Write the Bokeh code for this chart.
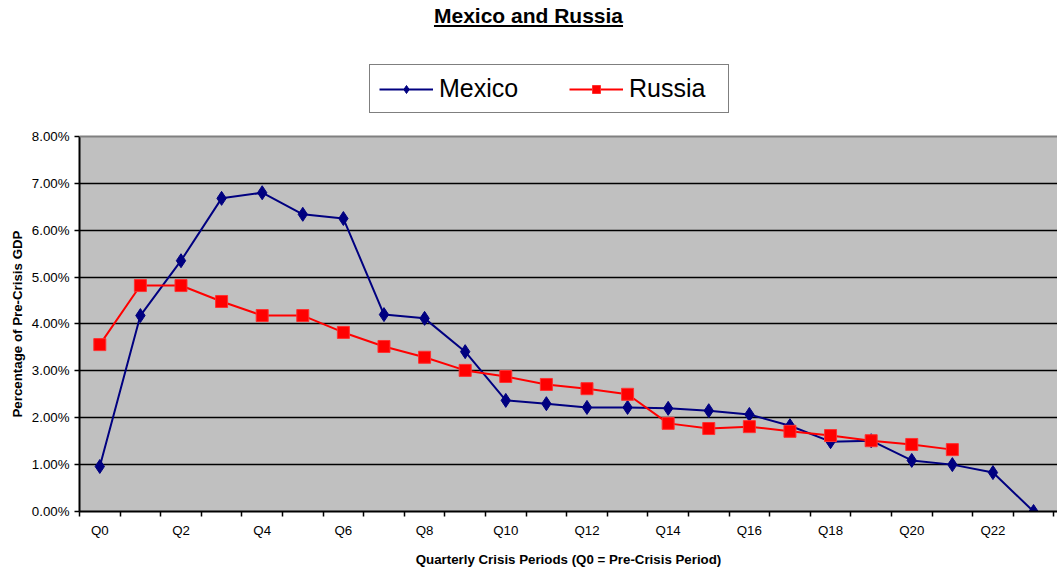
from bokeh.plotting import figure
from bokeh.models import (Range1d, FixedTicker, PrintfTickFormatter, Legend, LegendItem,
                          Div, BoxAnnotation, Span, Title)
from bokeh.layouts import column
from bokeh.embed import file_html
from bokeh.resources import INLINE

quarters = [f"Q{i}" for i in range(24)]
mexico = [0.96, 4.18, 5.35, 6.68, 6.80, 6.34, 6.25, 4.20, 4.12, 3.41, 2.37, 2.30,
          2.22, 2.22, 2.20, 2.15, 2.07, 1.83, 1.49, 1.51, 1.09, 1.00, 0.83, 0.00]
russia = [3.56, 4.82, 4.82, 4.48, 4.18, 4.18, 3.82, 3.52, 3.29, 3.01, 2.88, 2.71,
          2.62, 2.50, 1.88, 1.77, 1.81, 1.71, 1.62, 1.51, 1.43, 1.32]
y_ticks = [0, 1, 2, 3, 4, 5, 6, 7, 8]
Y_MAX = 8

FONT = "Liberation Sans"
FS = "13.3px"

xm = list(range(len(mexico)))
xr = list(range(len(russia)))

# frame extends above the 8% line to host the legend (white area above the plot box)
p = figure(width=1057, height=531, output_backend="svg", toolbar_location=None,
           x_range=Range1d(-0.5, 23.59), y_range=Range1d(0, 9.621),
           min_border_left=79, min_border_right=0, min_border_top=20, min_border_bottom=60)

p.background_fill_color = "white"
p.border_fill_color = "white"
p.outline_line_color = None

p.add_layout(BoxAnnotation(bottom=0, top=Y_MAX, fill_color="#C0C0C0", fill_alpha=1,
                           line_color=None, level="image"))
p.add_layout(Span(location=Y_MAX, dimension="width", line_color="#808080", line_width=2))

p.xgrid.visible = False
p.ygrid.grid_line_color = "black"
p.ygrid.grid_line_width = 1.3
p.ygrid.ticker = FixedTicker(ticks=y_ticks[:-1])

# y axis
p.yaxis.ticker = FixedTicker(ticks=y_ticks)
p.yaxis.bounds = (0, Y_MAX)
p.yaxis.formatter = PrintfTickFormatter(format="%.2f%%")
p.yaxis.axis_line_color = "black"
p.yaxis.axis_line_width = 2
p.yaxis.major_tick_out = 5
p.yaxis.major_tick_in = 0
p.yaxis.major_tick_line_width = 1.5
p.yaxis.minor_tick_out = 0
p.yaxis.minor_tick_in = 0
p.yaxis.major_label_standoff = 5
p.yaxis.major_label_text_font = FONT
p.yaxis.major_label_text_font_size = FS
p.yaxis.major_label_text_color = "black"

# y-axis title as a side title, aligned to the 0-8% box
ytitle = Title(text="Percentage of Pre-Crisis GDP", align="left", offset=94,
               text_font=FONT, text_font_size=FS, text_font_style="bold",
               text_color="black", standoff=7)
p.add_layout(ytitle, "left")

# x axis
p.xaxis.ticker = FixedTicker(ticks=list(range(0, 24, 2)),
                             minor_ticks=[i - 0.5 for i in range(25)])
p.xaxis.major_label_overrides = {i: quarters[i] for i in range(0, 24, 2)}
p.xaxis.axis_line_color = "black"
p.xaxis.axis_line_width = 2
p.xaxis.major_tick_out = 0
p.xaxis.major_tick_in = 0
p.xaxis.minor_tick_out = 5
p.xaxis.minor_tick_in = 0
p.xaxis.minor_tick_line_color = "black"
p.xaxis.minor_tick_line_width = 1.5
p.xaxis.major_label_standoff = 6
p.xaxis.major_label_text_font = FONT
p.xaxis.major_label_text_font_size = FS
p.xaxis.major_label_text_color = "black"
p.xaxis.axis_label = "Quarterly Crisis Periods (Q0 = Pre-Crisis Period)"
p.xaxis.axis_label_text_font = FONT
p.xaxis.axis_label_text_font_size = FS
p.xaxis.axis_label_text_font_style = "bold"
p.xaxis.axis_label_text_color = "black"
p.xaxis.axis_label_standoff = 11

ml = p.line(xm, mexico, line_color="#000080", line_width=2)
ms = p.scatter(xm, mexico, marker="diamond", size=14,
               fill_color="#000080", line_color="#000080")
rl = p.line(xr, russia, line_color="#FF0000", line_width=2)
rs = p.scatter(xr, russia, marker="square", size=12,
               fill_color="#FF0000", line_color="#FF3030")

legend = Legend(items=[LegendItem(label="Mexico", renderers=[ml, ms]),
                       LegendItem(label="Russia", renderers=[rl, rs])],
                orientation="horizontal", location=(290, 398),
                label_text_font=FONT, label_text_font_size="25px",
                label_text_color="black",
                glyph_width=54, glyph_height=20, label_standoff=6,
                label_width=90, spacing=40, padding=9, margin=0,
                border_line_color="black", border_line_width=1.5,
                background_fill_color="white", background_fill_alpha=1)
p.add_layout(legend, "center")

title = Div(text="<u>Mexico and Russia</u>", width=1057, height=40, margin=0,
            styles={"text-align": "center", "font-family": FONT, "font-size": "21px",
                    "font-weight": "bold", "width": "1057px", "padding-top": "1px"})

layout = column(title, p, spacing=0)
open("out.html", "w").write(file_html(layout, INLINE))
